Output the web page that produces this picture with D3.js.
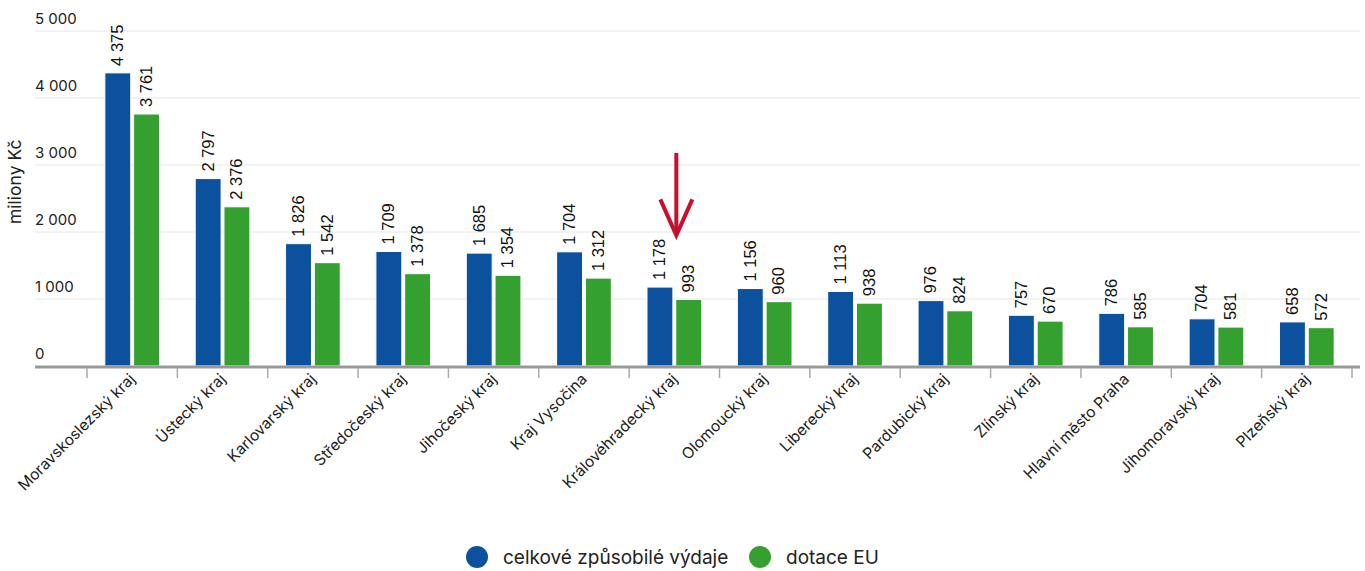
<!DOCTYPE html>
<html><head><meta charset="utf-8">
<script src="https://cdn.jsdelivr.net/npm/d3@7"></script>
<style>
body{margin:0;background:#fff;}
svg{display:block;}
.lab{font-family:Inter,"Open Sans",sans-serif;fill:#222;}
</style></head>
<body><svg id="c" width="1365" height="571"></svg>
<script>
const categories = ["Moravskoslezský kraj","Ústecký kraj","Karlovarský kraj","Středočeský kraj","Jihočeský kraj","Kraj Vysočina","Královéhradecký kraj","Olomoucký kraj","Liberecký kraj","Pardubický kraj","Zlínský kraj","Hlavní město Praha","Jihomoravský kraj","Plzeňský kraj"];
const celkove = [4375,2797,1826,1709,1685,1704,1178,1156,1113,976,757,786,704,658];
const dotace = [3761,2376,1542,1378,1354,1312,993,960,938,824,670,585,581,572];
const seriesNames = ["celkové způsobilé výdaje","dotace EU"];
const seriesColors = ["#0b519e","#33a02f"];
const yTicks = [0,1000,2000,3000,4000,5000];
const yTitle = "miliony Kč";
const arrowCategory = "Královéhradecký kraj";
const arrowFrom = 3180, arrowTo = 1950;

const svg = d3.select("#c");
const fmt = v => d3.format(",")(v).replace(/,/g," ");
const y = d3.scaleLinear().domain([0,5000]).range([366,31]);
const x = d3.scaleBand().domain(categories).range([87,1352]);
const x1 = d3.scaleBand().domain([0,1]).range([0,x.bandwidth()]).paddingInner(0.1).paddingOuter(0.62);

// gridlines
svg.append("g").selectAll("line").data(yTicks.filter(d=>d>0)).join("line")
  .attr("x1",35).attr("x2",1360).attr("y1",d=>y(d)).attr("y2",d=>y(d))
  .attr("stroke","#e6e6e6").attr("stroke-width",1);
// y labels
svg.append("g").selectAll("text").data(yTicks).join("text").attr("class","lab")
  .attr("x",35).attr("y",d=>y(d)-7).attr("font-size",15).text(fmt);
// y title
svg.append("text").attr("class","lab").attr("transform",`translate(21,${y(2750)}) rotate(-90)`)
  .attr("text-anchor","middle").attr("font-size",17.5).text(yTitle);

// bars
const data = categories.map((c,i)=>({c, v:[celkove[i],dotace[i]]}));
const g = svg.append("g");
data.forEach(d=>{
  d.v.forEach((v,k)=>{
    const bx = x(d.c)+x1(k);
    g.append("rect").attr("x",bx).attr("y",y(v)).attr("width",x1.bandwidth()).attr("height",y(0)-y(v))
      .attr("fill",seriesColors[k]).attr("stroke","#fff").attr("stroke-width",1);
    g.append("text").attr("transform",`translate(${bx+x1.bandwidth()/2+1},${y(v)-7}) rotate(-90)`)
      .attr("dominant-baseline","middle").attr("font-family","'Liberation Sans',Arial,sans-serif")
      .attr("font-size",16.5).attr("fill","#111").text(fmt(v));
  });
});

// x axis
svg.append("line").attr("x1",35).attr("x2",1360).attr("y1",367).attr("y2",367).attr("stroke","#999").attr("stroke-width",3);
const tickPos = categories.map(c=>x(c)).concat([x.range()[1]]);
svg.append("g").selectAll("line").data(tickPos).join("line")
  .attr("x1",d=>d).attr("x2",d=>d).attr("y1",368).attr("y2",378).attr("stroke","#aaa").attr("stroke-width",1.5);
svg.append("g").selectAll("text").data(categories).join("text").attr("class","lab")
  .attr("transform",c=>`translate(${x(c)+x.bandwidth()/2+4},${380}) rotate(-45)`)
  .attr("text-anchor","end").attr("font-size",15.5).text(c=>c);

// arrow annotation
const ax = x(arrowCategory)+x.bandwidth()/2+2;
const ag = svg.append("g").attr("stroke","#c8102e").attr("stroke-width",4).attr("fill","none");
ag.append("line").attr("x1",ax).attr("x2",ax).attr("y1",y(arrowFrom)).attr("y2",y(arrowTo)-2);
ag.append("path").attr("d",`M${ax-16},${y(arrowTo)-36}L${ax},${y(arrowTo)}L${ax+16},${y(arrowTo)-36}`);

// legend
const lg = svg.append("g");
const lx = [477,760];
seriesNames.forEach((n,i)=>{
  lg.append("circle").attr("cx",lx[i]).attr("cy",557).attr("r",11).attr("fill",seriesColors[i]);
  lg.append("text").attr("class","lab").attr("x",lx[i]+26).attr("y",557).attr("dominant-baseline","central")
    .attr("font-size",19).text(n);
});
</script></body></html>
